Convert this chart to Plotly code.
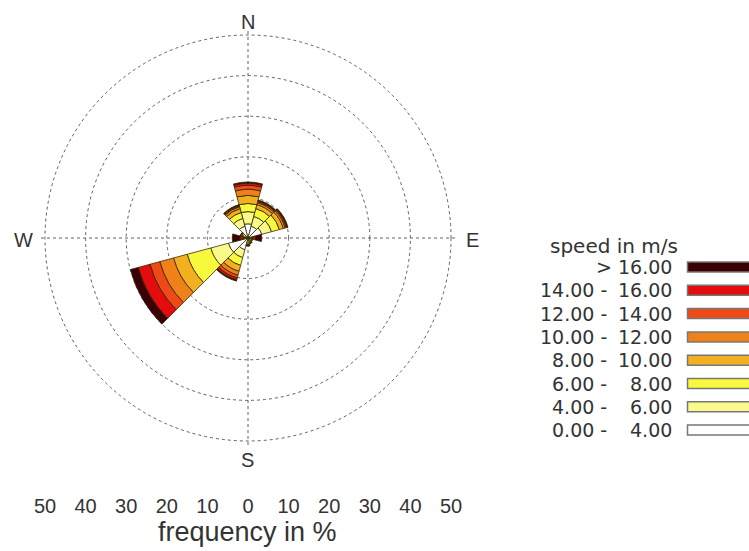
import plotly.graph_objects as go

# ---------------- data ----------------
directions = [0, 30, 60, 90, 120, 150, 180, 210, 240, 270, 300, 330]

speed_classes = ["0.00 - 4.00", "4.00 - 6.00", "6.00 - 8.00", "8.00 - 10.00",
                 "10.00 - 12.00", "12.00 - 14.00", "14.00 - 16.00", "> 16.00"]
class_lo = ["0.00", "4.00", "6.00", "8.00", "10.00", "12.00", "14.00", None]
class_hi = ["4.00", "6.00", "8.00", "10.00", "12.00", "14.00", "16.00", "16.00"]
class_colors = ["#ffffff", "#fafa8c", "#f8f83c", "#f2b020",
                "#f08018", "#ee4a18", "#e40c0c", "#3a0006"]

# frequency (%) per direction for each speed class
f_0_4   = [3.5, 3.0, 3.5, 0.3, 0.6, 0.7, 0.8, 3.0, 5.0, 0.3, 0.8, 3.0]
f_4_6   = [3.0, 2.5, 2.5, 0.2, 0.3, 0.4, 0.5, 2.0, 4.5, 0.2, 0.5, 2.0]
f_6_8   = [2.0, 2.0, 2.0, 0.2, 0.2, 0.2, 0.3, 2.0, 6.0, 0.2, 0.3, 1.5]
f_8_10  = [2.0, 1.0, 1.0, 0.2, 0.1, 0.1, 0.2, 1.5, 3.5, 0.2, 0.2, 1.0]
f_10_12 = [1.5, 0.5, 0.5, 0.2, 0.0, 0.1, 0.1, 1.0, 3.5, 0.3, 0.1, 0.5]
f_12_14 = [1.0, 0.3, 0.3, 0.3, 0.0, 0.0, 0.1, 0.7, 2.5, 0.3, 0.1, 0.2]
f_14_16 = [0.5, 0.2, 0.2, 0.5, 0.0, 0.0, 0.0, 0.5, 3.0, 0.5, 0.0, 0.2]
f_gt_16 = [0.3, 0.2, 0.2, 1.5, 0.0, 0.0, 0.0, 0.3, 2.0, 1.9, 0.0, 0.1]
class_freqs = [f_0_4, f_4_6, f_6_8, f_8_10, f_10_12, f_12_14, f_14_16, f_gt_16]

ring_values = [10, 20, 30, 40, 50]
freq_ticks = [-50, -40, -30, -20, -10, 0, 10, 20, 30, 40, 50]
compass_labels = ["N", "E", "S", "W"]
compass_angles = [0, 90, 180, 270]

# ---------------- layout geometry (px) ----------------
W, H = 749, 551
cx, cy = 248, 238          # rose centre
r50 = 203                  # radius of the 50 % ring
rmax = 51
R = r50 * rmax / 50

def px(x):
    return x / W

def py(y):
    return 1 - y / H

fig = go.Figure()

for name, freqs, col in zip(speed_classes, class_freqs, class_colors):
    fig.add_trace(go.Barpolar(
        r=freqs, theta=directions, width=[30] * len(directions),
        name=name, marker=dict(color=col, line=dict(color="rgba(45,35,0,0.85)", width=0.9)),
        showlegend=False, hoverinfo="skip"))

# invisible trace to carry the frequency axis
fig.add_trace(go.Scatter(x=[min(freq_ticks), max(freq_ticks)], y=[0, 0], mode="markers",
                         marker=dict(opacity=0), showlegend=False, hoverinfo="skip"))

grid_col = "#606060"
grid_dash = "3px,3px"
fig.update_layout(
    width=W, height=H, margin=dict(l=0, r=0, t=0, b=0, pad=0, autoexpand=False),
    paper_bgcolor="white", plot_bgcolor="white",
    font=dict(family="Liberation Sans, Arial, sans-serif", color="#333333"),
    polar=dict(
        domain=dict(x=[px(cx - R), px(cx + R)], y=[py(cy + R), py(cy - R)]),
        bgcolor="white", barmode="stack",
        angularaxis=dict(direction="clockwise", rotation=90, tickvals=compass_angles,
                         showticklabels=False, ticks="", showline=False,
                         gridcolor=grid_col, griddash=grid_dash, gridwidth=1),
        radialaxis=dict(range=[0, rmax], tickvals=ring_values, showticklabels=False,
                        ticks="", showline=False, gridcolor=grid_col, griddash=grid_dash,
                        gridwidth=1),
    ),
    xaxis=dict(domain=[px(cx - r50), px(cx + r50)], range=[-50, 50],
               tickvals=freq_ticks, ticktext=[str(abs(v)) for v in freq_ticks],
               showgrid=False, zeroline=False, showline=False, ticks="",
               automargin=False,
               tickfont=dict(size=20, color="#333333"), fixedrange=True),
    yaxis=dict(domain=[py(492), py(482)], visible=False, fixedrange=True, automargin=False),
)

annotations = []
# compass labels
comp_pos = {"N": (cx, 22), "E": (472, 240), "S": (cx, 460), "W": (23, 240)}
for lab in compass_labels:
    x, y = comp_pos[lab]
    annotations.append(dict(x=px(x), y=py(y), xref="paper", yref="paper", text=lab,
                            showarrow=False, xanchor="center", yanchor="middle",
                            font=dict(size=20, color="#333333")))
# axis title
annotations.append(dict(x=px(cx), y=py(532), xref="paper", yref="paper",
                        text="frequency in %", showarrow=False, xanchor="center",
                        yanchor="middle", font=dict(size=27, color="#333333")))

# custom legend
leg_font = dict(family="DejaVu Sans, sans-serif", size=19, color="#333333")
annotations.append(dict(x=px(614), y=py(246), xref="paper", yref="paper",
                        text="speed in m/s", showarrow=False, xanchor="center",
                        yanchor="middle",
                        font=dict(family="DejaVu Sans, sans-serif", size=20, color="#333333")))
shapes = []
row0, dy = 267, 23.3
n = len(speed_classes)
for k in range(n):
    i = n - 1 - k                 # top row = highest class
    yc = row0 + k * dy
    if class_lo[i] is None:
        annotations.append(dict(x=px(674), y=py(yc), xref="paper", yref="paper",
                                text="> " + class_hi[i], showarrow=False,
                                xanchor="right", yanchor="middle", font=leg_font))
    else:
        annotations.append(dict(x=px(609), y=py(yc), xref="paper", yref="paper",
                                text=class_lo[i] + " -", showarrow=False,
                                xanchor="right", yanchor="middle", font=leg_font))
        annotations.append(dict(x=px(674), y=py(yc), xref="paper", yref="paper",
                                text=class_hi[i], showarrow=False,
                                xanchor="right", yanchor="middle", font=leg_font))
    shapes.append(dict(type="rect", xref="paper", yref="paper",
                       x0=px(687.5), x1=px(765), y0=py(yc + 5), y1=py(yc - 5),
                       fillcolor=class_colors[i], line=dict(color="#777777", width=1.5)))

fig.update_layout(annotations=annotations, shapes=shapes)
fig.write_html("out.html")
